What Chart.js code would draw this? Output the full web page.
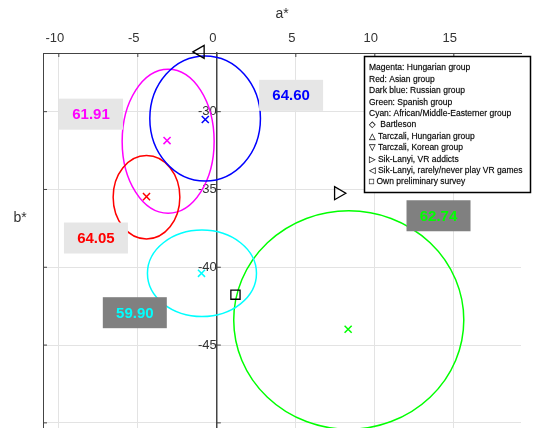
<!DOCTYPE html>
<html>
<head>
<meta charset="utf-8">
<script src="https://cdn.jsdelivr.net/npm/chart.js@4/dist/chart.umd.min.js"></script>
<style>
  html, body { margin: 0; padding: 0; background: #fff; }
  #wrap { width: 534px; height: 428px; }
</style>
</head>
<body>
<div id="wrap"><canvas id="abChart" width="534" height="428"></canvas></div>
<script>
// colour groups: ellipse centre + half axes in (a*, b*), mean marker, value in box
var groupNames = ['Hungarian', 'Asian', 'Russian', 'Spanish', 'African/Middle-Easterner'];
var groupColors = ['#ff00ff', '#ff0000', '#0000ff', '#00ff00', '#00ffff'];
var ellipseA = [-3.08, -4.45, -0.74, 8.35, -0.94];
var ellipseB = [-31.90, -35.50, -30.44, -43.39, -40.39];
var ellipseRadA = [2.91, 2.11, 3.50, 7.28, 3.45];
var ellipseRadB = [4.63, 2.68, 4.02, 7.02, 2.78];
var meanA = [-3.15, -4.45, -0.73, 8.31, -0.97];
var meanB = [-31.86, -35.46, -30.50, -43.98, -40.39];
var groupValues = ['61.91', '64.05', '64.60', '62.74', '59.90'];

// literature points
var refNames = ['Sik-Lanyi, VR addicts', 'Sik-Lanyi, rarely/never play VR games', 'Own preliminary survey'];
var refA = [7.69, -1.04, 1.18];
var refB = [-35.24, -26.16, -41.76];

var xTicks = [-10, -5, 0, 5, 10, 15];
var yTicks = [-50, -45, -40, -35, -30];
var yTickLabels = ['', '-45', '-40', '-35', '-30'];

var legendLines = [
    'Magenta: Hungarian group',
    'Red: Asian group',
    'Dark blue: Russian group',
    'Green: Spanish group',
    'Cyan: African/Middle-Easterner group',
    '\u25C7  Bartleson',
    '\u25B3 Tarczali, Hungarian group',
    '\u25BD Tarczali, Korean group',
    '\u25B7 Sik-Lanyi, VR addicts',
    '\u25C1 Sik-Lanyi, rarely/never play VR games',
    '\u25A1 Own preliminary survey'
];

// where the value boxes sit (data units) and their fill
var boxPlace = [
    { a: -7.96, b: -30.16, fill: '#e6e6e6' },
    { a: -7.65, b: -38.12, fill: '#e6e6e6' },
    { a: 4.70, b: -28.95, fill: '#e6e6e6' },
    { a: 14.03, b: -36.69, fill: '#808080' },
    { a: -5.19, b: -42.92, fill: '#808080' }
];

Chart.defaults.font.family = '"Liberation Sans", Arial, sans-serif';

var datasets = [];
for (var i = 0; i < groupNames.length; i++) {
    datasets.push({
        label: groupNames[i],
        data: [{ x: meanA[i], y: meanB[i] }],
        pointStyle: 'crossRot',
        radius: 5,
        borderColor: groupColors[i],
        backgroundColor: groupColors[i],
        borderWidth: 1.5
    });
}
var refStyle = [
    { style: 'triangle', rot: 90, r: 7.5 },
    { style: 'triangle', rot: -90, r: 7.5 },
    { style: 'rect', rot: 0, r: 6.5 }
];
for (var j = 0; j < refNames.length; j++) {
    datasets.push({
        label: refNames[j],
        data: [{ x: refA[j], y: refB[j] }],
        pointStyle: refStyle[j].style,
        rotation: refStyle[j].rot,
        radius: refStyle[j].r,
        borderColor: '#000',
        backgroundColor: 'rgba(0,0,0,0)',
        borderWidth: 1.3,
        clip: false
    });
}

var ellipsePlugin = {
    id: 'ellipses',
    beforeDatasetsDraw: function(chart) {
        var ctx = chart.ctx, xs = chart.scales.x, ys = chart.scales.y, area = chart.chartArea;
        ctx.save();
        // left frame line and inward ticks
        ctx.strokeStyle = '#444';
        ctx.lineWidth = 1;
        ctx.beginPath();
        ctx.moveTo(area.left + 0.5, area.top);
        ctx.lineTo(area.left + 0.5, area.bottom);
        xTicks.forEach(function(v) {
            var px = xs.getPixelForValue(v);
            ctx.moveTo(px, area.top);
            ctx.lineTo(px, area.top + 4);
        });
        var x0 = xs.getPixelForValue(0);
        yTicks.forEach(function(v) {
            var py = ys.getPixelForValue(v);
            ctx.moveTo(area.left, py);
            ctx.lineTo(area.left + 4, py);
            ctx.moveTo(x0, py);
            ctx.lineTo(x0 + 4, py);
        });
        ctx.stroke();

        ctx.beginPath();
        ctx.rect(area.left, area.top, area.right - area.left, area.bottom - area.top);
        ctx.clip();
        ctx.lineWidth = 1.5;
        for (var i = 0; i < groupNames.length; i++) {
            var cx = xs.getPixelForValue(ellipseA[i]);
            var cy = ys.getPixelForValue(ellipseB[i]);
            var rx = Math.abs(xs.getPixelForValue(ellipseA[i] + ellipseRadA[i]) - cx);
            var ry = Math.abs(ys.getPixelForValue(ellipseB[i] + ellipseRadB[i]) - cy);
            ctx.strokeStyle = groupColors[i];
            ctx.beginPath();
            ctx.ellipse(cx, cy, rx, ry, 0, 0, Math.PI * 2);
            ctx.stroke();
        }
        ctx.restore();
    },
    afterDatasetsDraw: function(chart) {
        var ctx = chart.ctx, xs = chart.scales.x, ys = chart.scales.y;
        ctx.save();
        ctx.font = 'bold 15px "Liberation Sans", Arial, sans-serif';
        ctx.textAlign = 'center';
        ctx.textBaseline = 'middle';
        for (var i = 0; i < groupValues.length; i++) {
            var px = xs.getPixelForValue(boxPlace[i].a);
            var py = ys.getPixelForValue(boxPlace[i].b);
            ctx.fillStyle = boxPlace[i].fill;
            ctx.fillRect(px - 32, py - 15.5, 64, 31);
            ctx.fillStyle = groupColors[i];
            ctx.fillText(groupValues[i], px, py + 1);
        }
        ctx.restore();
    },
    afterDraw: function(chart) {
        var ctx = chart.ctx;
        ctx.save();
        // b* axis name
        ctx.fillStyle = '#333';
        ctx.font = '14px "Liberation Sans", Arial, sans-serif';
        ctx.textAlign = 'center';
        ctx.textBaseline = 'middle';
        ctx.fillText('b*', 20, 218);

        // legend box
        ctx.fillStyle = '#fff';
        ctx.fillRect(364, 56, 167, 137);
        ctx.strokeStyle = '#000';
        ctx.lineWidth = 1.5;
        ctx.strokeRect(364.5, 56.5, 166, 136);
        ctx.fillStyle = '#000';
        ctx.strokeStyle = 'rgba(0,0,0,0.5)';
        ctx.lineWidth = 0.3;
        ctx.textAlign = 'left';
        ctx.font = '8.5px "Liberation Sans", "DejaVu Sans", sans-serif';
        for (var k = 0; k < legendLines.length; k++) {
            ctx.fillText(legendLines[k], 369, 68 + k * 11.4);
            ctx.strokeText(legendLines[k], 369, 68 + k * 11.4);
        }
        ctx.restore();
    }
};

new Chart(document.getElementById('abChart').getContext('2d'), {
    type: 'scatter',
    data: { datasets: datasets },
    options: {
        responsive: false,
        animation: false,
        devicePixelRatio: 1,
        layout: { autoPadding: false, padding: { left: 43, right: 13, top: 0, bottom: 0 } },
        plugins: { legend: { display: false }, tooltip: { enabled: false } },
        scales: {
            x: {
                type: 'linear',
                position: 'top',
                min: -11,
                max: 19.25,
                afterBuildTicks: function(s) { s.ticks = xTicks.map(function(v) { return { value: v }; }); },
                afterFit: function(s) { s.height = 53; s.paddingLeft = 0; s.paddingRight = 0; },
                ticks: { font: { size: 13 }, color: '#333', padding: 7, labelOffset: -4 },
                grid: { color: '#e3e3e3', drawTicks: false },
                border: { color: '#444', width: 1 },
                title: { display: true, text: 'a*', font: { size: 14 }, color: '#333', padding: { top: 6, bottom: 0 } }
            },
            y: {
                type: 'linear',
                position: { x: 0 },
                min: -50.33,
                max: -26.23,
                afterBuildTicks: function(s) { s.ticks = yTicks.map(function(v) { return { value: v }; }); },
                afterFit: function(s) { s.paddingTop = 0; s.paddingBottom = 0; },
                ticks: {
                    font: { size: 13 },
                    color: '#333',
                    padding: 8,
                    callback: function(v, idx) { return yTickLabels[idx]; }
                },
                grid: { color: '#e3e3e3', drawTicks: false },
                border: { color: '#444', width: 1.5 }
            }
        }
    },
    plugins: [ellipsePlugin]
});
</script>
</body>
</html>
